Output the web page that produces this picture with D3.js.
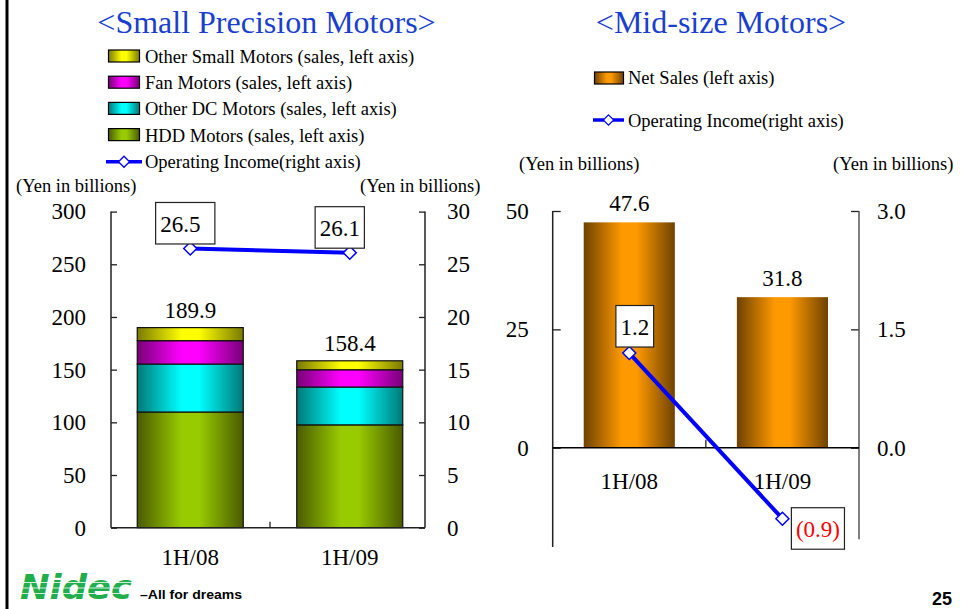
<!DOCTYPE html>
<html>
<head>
<meta charset="utf-8">
<script src="https://cdn.jsdelivr.net/npm/d3@7/dist/d3.min.js"></script>
<style>
  html, body { margin: 0; padding: 0; background: #fff; }
  svg { display: block; }
  text { font-family: "Liberation Serif", "Times New Roman", serif; }
</style>
</head>
<body>
<svg id="chart" width="962" height="609"></svg>
<script>
// ---------------- DATA ----------------
const categories = ["1H/08", "1H/09"];
// Small Precision Motors (sales, left axis, Yen in billions)
const hddMotors = [109.8, 97.6];
const otherDcMotors = [45.5, 35.9];
const fanMotors = [22.2, 16.4];
const otherSmallMotors = [12.4, 8.5];
const spmTotals = [189.9, 158.4];
// Small Precision Motors operating income (right axis)
const spmOpIncome = [26.5, 26.1];
// Mid-size Motors
const midNetSales = [47.6, 31.8];
const midOpIncome = [1.2, -0.9];
// Tick labels
const spmLeftTicks = [0, 50, 100, 150, 200, 250, 300];
const spmRightTicks = [0, 5, 10, 15, 20, 25, 30];
const midLeftTicks = [0, 25, 50];
const midRightTicks = [0, 1.5, 3.0];
const spmSeriesNames = ["HDD Motors (sales, left axis)", "Other DC Motors (sales, left axis)",
  "Fan Motors (sales, left axis)", "Other Small Motors (sales, left axis)"];

// ---------------- SETUP ----------------
const svg = d3.select("#chart");
const defs = svg.append("defs");
function cyl(id, dark, bright) {
  const g = defs.append("linearGradient").attr("id", id)
    .attr("x1", "0%").attr("x2", "100%").attr("y1", "0%").attr("y2", "0%");
  g.append("stop").attr("offset", "0%").attr("stop-color", dark);
  g.append("stop").attr("offset", "42%").attr("stop-color", bright);
  g.append("stop").attr("offset", "58%").attr("stop-color", bright);
  g.append("stop").attr("offset", "100%").attr("stop-color", dark);
}
cyl("gHdd", "#4a5a00", "#99cc00");
cyl("gDc", "#007878", "#00ffff");
cyl("gFan", "#780078", "#ff00ff");
cyl("gOther", "#7a7a00", "#ffff00");
cyl("gOrange", "#6e4200", "#ff9900");
const seriesFills = ["url(#gHdd)", "url(#gDc)", "url(#gFan)", "url(#gOther)"];

const NUM_FONT = 23;
const AXIS_COLOR = "#222";

// left page border
svg.append("line").attr("x1", 7).attr("x2", 7).attr("y1", 0).attr("y2", 609)
  .attr("stroke", "#000").attr("stroke-width", 3);

const diamond = "M0,-6.5L6.5,0L0,6.5L-6.5,0Z";

function boxLabel(g, cx, baseline, txt, color, extraRight) {
  const t = g.append("text").attr("x", cx).attr("y", baseline)
    .attr("text-anchor", "middle").attr("font-size", NUM_FONT)
    .attr("fill", color).text(txt);
  const bb = t.node().getBBox();
  g.insert("rect", () => t.node())
    .attr("x", bb.x - 4.5).attr("width", bb.width + 9 + (extraRight || 0))
    .attr("y", baseline - 29.5).attr("height", 41.5)
    .attr("fill", "#fff").attr("stroke", "#222").attr("stroke-width", 1.2);
}

// ================= LEFT CHART: Small Precision Motors =================
{
  const g = svg.append("g");
  const x = d3.scaleBand().domain(categories).range([110.5, 429.5]).padding(0);
  const yL = d3.scaleLinear().domain([0, 300]).range([527.7, 211.6]);
  const yR = d3.scaleLinear().domain([0, 30]).range([527.7, 211.6]);
  const barW = 106;

  g.append("text").attr("x", 266.5).attr("y", 33).attr("text-anchor", "middle")
    .attr("font-size", 32).attr("fill", "#1a3fcf").text("<Small Precision Motors>");

  // legend (top to bottom: reverse of stacking order)
  const legRows = [3, 2, 1, 0];
  legRows.forEach((si, i) => {
    const by = 63 + i * 26.2;
    g.append("rect").attr("x", 108.5).attr("y", by - 13).attr("width", 31).attr("height", 12)
      .attr("fill", seriesFills[si]).attr("stroke", "#000").attr("stroke-width", 1.2);
    g.append("text").attr("x", 145).attr("y", by).attr("font-size", 18.5).text(spmSeriesNames[si]);
  });
  {
    const by = 63 + 4 * 26.2;
    g.append("line").attr("x1", 106).attr("x2", 142).attr("y1", by - 6).attr("y2", by - 6)
      .attr("stroke", "#0000ff").attr("stroke-width", 3.5);
    g.append("path").attr("d", diamond).attr("transform", `translate(124,${by - 6}) scale(0.85)`)
      .attr("fill", "#fff").attr("stroke", "#0000ff").attr("stroke-width", 1.5);
    g.append("text").attr("x", 145).attr("y", by).attr("font-size", 18.5).text("Operating Income(right axis)");
  }
  g.append("text").attr("x", 16).attr("y", 192).attr("font-size", 18.5).text("(Yen in billions)");
  g.append("text").attr("x", 360).attr("y", 192).attr("font-size", 18.5).text("(Yen in billions)");

  // stacked bars
  const rows = categories.map((c, i) => ({
    cat: c, hdd: hddMotors[i], dc: otherDcMotors[i], fan: fanMotors[i], other: otherSmallMotors[i]
  }));
  const keys = ["hdd", "dc", "fan", "other"];
  const stacked = d3.stack().keys(keys)(rows);
  stacked.forEach((layer, li) => {
    g.selectAll(null).data(layer).join("rect")
      .attr("x", d => x(d.data.cat) + (x.bandwidth() - barW) / 2)
      .attr("width", barW)
      .attr("y", d => yL(d[1]))
      .attr("height", d => yL(d[0]) - yL(d[1]))
      .attr("fill", seriesFills[li])
      .attr("stroke", "#111").attr("stroke-width", 1.2);
  });
  // totals
  g.selectAll(null).data(categories).join("text")
    .attr("x", c => x(c) + x.bandwidth() / 2)
    .attr("y", (c, i) => yL(spmTotals[i]) - 9.5)
    .attr("text-anchor", "middle").attr("font-size", NUM_FONT)
    .text((c, i) => spmTotals[i].toFixed(1));

  // axes
  const axL = g.append("g").attr("transform", "translate(111,0)")
    .call(d3.axisLeft(yL).tickValues(spmLeftTicks).tickSize(-6).tickSizeOuter(0).tickPadding(25));
  const axR = g.append("g").attr("transform", "translate(425,0)")
    .call(d3.axisRight(yR).tickValues(spmRightTicks).tickSize(-6).tickSizeOuter(0).tickPadding(22));
  [axL, axR].forEach(a => {
    a.select(".domain").remove();
    a.selectAll("text").attr("font-size", NUM_FONT).attr("fill", "#000");
    a.selectAll(".tick line").attr("stroke", AXIS_COLOR).attr("stroke-width", 1.3);
  });
  g.append("line").attr("x1", 111).attr("x2", 111).attr("y1", yL(300)).attr("y2", yL(0))
    .attr("stroke", AXIS_COLOR).attr("stroke-width", 1.5);
  g.append("line").attr("x1", 425).attr("x2", 425).attr("y1", yR(30)).attr("y2", yR(0))
    .attr("stroke", AXIS_COLOR).attr("stroke-width", 1.5);
  g.append("line").attr("x1", 111).attr("x2", 425).attr("y1", yL(0)).attr("y2", yL(0))
    .attr("stroke", AXIS_COLOR).attr("stroke-width", 1.5);
  g.append("line").attr("x1", x(categories[1])).attr("x2", x(categories[1]))
    .attr("y1", yL(0)).attr("y2", yL(0) - 6).attr("stroke", AXIS_COLOR).attr("stroke-width", 1.3);
  const axB = g.append("g").attr("transform", `translate(0,${yL(0)})`)
    .call(d3.axisBottom(x).tickSize(0).tickPadding(21));
  axB.select(".domain").remove();
  axB.selectAll("text").attr("font-size", NUM_FONT).attr("fill", "#000");

  // operating income line
  const cx = c => x(c) + x.bandwidth() / 2;
  const line = d3.line().x((d, i) => cx(categories[i])).y(d => yR(d));
  g.append("path").datum(spmOpIncome).attr("d", line)
    .attr("fill", "none").attr("stroke", "#0000ff").attr("stroke-width", 4);
  spmOpIncome.forEach((v, i) => {
    g.append("path").attr("d", diamond)
      .attr("transform", `translate(${cx(categories[i])},${yR(v)})`)
      .attr("fill", "#fff").attr("stroke", "#0000ff").attr("stroke-width", 1.5);
    boxLabel(g, cx(categories[i]) - 10, yR(v) - 16.5, v.toFixed(1), "#000", i === 0 ? 10 : 0);
  });
}

// ================= RIGHT CHART: Mid-size Motors =================
{
  const g = svg.append("g");
  const x = d3.scaleBand().domain(categories).range([552.7, 859]).padding(0);
  const yL = d3.scaleLinear().domain([0, 50]).range([447.7, 211]);
  const yR = d3.scaleLinear().domain([0, 3]).range([447.7, 211]);
  const barW = x.bandwidth() * 0.595;
  const cx = c => x(c) + x.bandwidth() / 2;

  g.append("text").attr("x", 721).attr("y", 33).attr("text-anchor", "middle")
    .attr("font-size", 32).attr("fill", "#1a3fcf").text("<Mid-size Motors>");

  // legend
  g.append("rect").attr("x", 594.5).attr("y", 72).attr("width", 29).attr("height", 12)
    .attr("fill", "url(#gOrange)").attr("stroke", "#000").attr("stroke-width", 1.2);
  g.append("text").attr("x", 628).attr("y", 84).attr("font-size", 18.5).text("Net Sales (left axis)");
  g.append("line").attr("x1", 593).attr("x2", 624).attr("y1", 120).attr("y2", 120)
    .attr("stroke", "#0000ff").attr("stroke-width", 3.5);
  g.append("path").attr("d", diamond).attr("transform", "translate(608.5,120) scale(0.8)")
    .attr("fill", "#fff").attr("stroke", "#0000ff").attr("stroke-width", 1.5);
  g.append("text").attr("x", 628).attr("y", 127).attr("font-size", 18.5).text("Operating Income(right axis)");
  g.append("text").attr("x", 519).attr("y", 170).attr("font-size", 18.5).text("(Yen in billions)");
  g.append("text").attr("x", 833).attr("y", 170).attr("font-size", 18.5).text("(Yen in billions)");

  // bars
  g.selectAll(null).data(categories).join("rect")
    .attr("x", c => x(c) + (x.bandwidth() - barW) / 2)
    .attr("width", barW)
    .attr("y", (c, i) => yL(midNetSales[i]))
    .attr("height", (c, i) => yL(0) - yL(midNetSales[i]))
    .attr("fill", "url(#gOrange)");
  g.selectAll(null).data(categories).join("text")
    .attr("x", cx)
    .attr("y", (c, i) => yL(midNetSales[i]) - 11)
    .attr("text-anchor", "middle").attr("font-size", NUM_FONT)
    .text((c, i) => midNetSales[i].toFixed(1));

  // axes
  const axL = g.append("g").attr("transform", "translate(552.7,0)")
    .call(d3.axisLeft(yL).tickValues(midLeftTicks).tickSize(-8).tickSizeOuter(0).tickPadding(24));
  const axR = g.append("g").attr("transform", "translate(859,0)")
    .call(d3.axisRight(yR).tickValues(midRightTicks).tickSize(-8).tickSizeOuter(0).tickPadding(18)
      .tickFormat(d3.format(".1f")));
  [axL, axR].forEach(a => {
    a.select(".domain").remove();
    a.selectAll("text").attr("font-size", NUM_FONT).attr("fill", "#000");
    a.selectAll(".tick line").attr("stroke", AXIS_COLOR).attr("stroke-width", 1.3);
  });
  g.append("line").attr("x1", 552.7).attr("x2", 552.7).attr("y1", yL(50)).attr("y2", yL(-21))
    .attr("stroke", AXIS_COLOR).attr("stroke-width", 1.5);
  g.append("line").attr("x1", 859).attr("x2", 859).attr("y1", yR(3)).attr("y2", yR(-1.16))
    .attr("stroke", "#555").attr("stroke-width", 1.5);
  g.append("line").attr("x1", 552.7).attr("x2", 859).attr("y1", yL(0)).attr("y2", yL(0))
    .attr("stroke", "#000").attr("stroke-width", 1.6);
  g.append("line").attr("x1", x(categories[1])).attr("x2", x(categories[1]))
    .attr("y1", yL(0)).attr("y2", yL(0) - 8).attr("stroke", AXIS_COLOR).attr("stroke-width", 1.3);
  const axB = g.append("g").attr("transform", `translate(0,${yL(0)})`)
    .call(d3.axisBottom(x).tickSize(0).tickPadding(25));
  axB.select(".domain").remove();
  axB.selectAll("text").attr("font-size", NUM_FONT).attr("fill", "#000");

  // operating income line
  const line = d3.line().x((d, i) => cx(categories[i])).y(d => yR(d));
  g.append("path").datum(midOpIncome).attr("d", line)
    .attr("fill", "none").attr("stroke", "#0000ff").attr("stroke-width", 4);
  midOpIncome.forEach((v, i) => {
    g.append("path").attr("d", diamond)
      .attr("transform", `translate(${cx(categories[i])},${yR(v)})`)
      .attr("fill", "#fff").attr("stroke", "#0000ff").attr("stroke-width", 1.5);
  });
  const fmt = v => v < 0 ? `(${Math.abs(v).toFixed(1)})` : v.toFixed(1);
  midOpIncome.forEach((v, i) => {
    if (v >= 0) boxLabel(g, cx(categories[i]) + 5.5, yR(v) - 18, fmt(v), "#000");
    else boxLabel(g, cx(categories[i]) + 35.5, yR(v) + 18.5, fmt(v), "#ff0000");
  });
}

// ================= FOOTER =================
{
  const g = svg.append("g");
  g.append("text").attr("x", 20).attr("y", 599)
    .style("font-family", "'DejaVu Sans', sans-serif").style("font-weight", "900").style("font-style", "italic")
    .attr("font-size", 33).attr("fill", "#1fae4b")
    .attr("textLength", 112).attr("lengthAdjust", "spacingAndGlyphs").text("Nidec");
  [582.5, 588, 593.5].forEach(yy => {
    g.append("line").attr("x1", 16).attr("x2", 136).attr("y1", yy).attr("y2", yy)
      .attr("stroke", "#fff").attr("stroke-width", 0.8);
  });
  g.append("text").attr("x", 140).attr("y", 599)
    .style("font-family", "'Liberation Sans', Arial, sans-serif").style("font-weight", "700")
    .attr("font-size", 12).attr("fill", "#000")
    .attr("textLength", 102).attr("lengthAdjust", "spacingAndGlyphs").text("–All for dreams");
  g.append("text").attr("x", 952).attr("y", 605).attr("text-anchor", "end")
    .style("font-family", "'Liberation Sans', Arial, sans-serif").style("font-weight", "700")
    .attr("font-size", 18).attr("fill", "#000").text("25");
}
</script>
</body>
</html>
